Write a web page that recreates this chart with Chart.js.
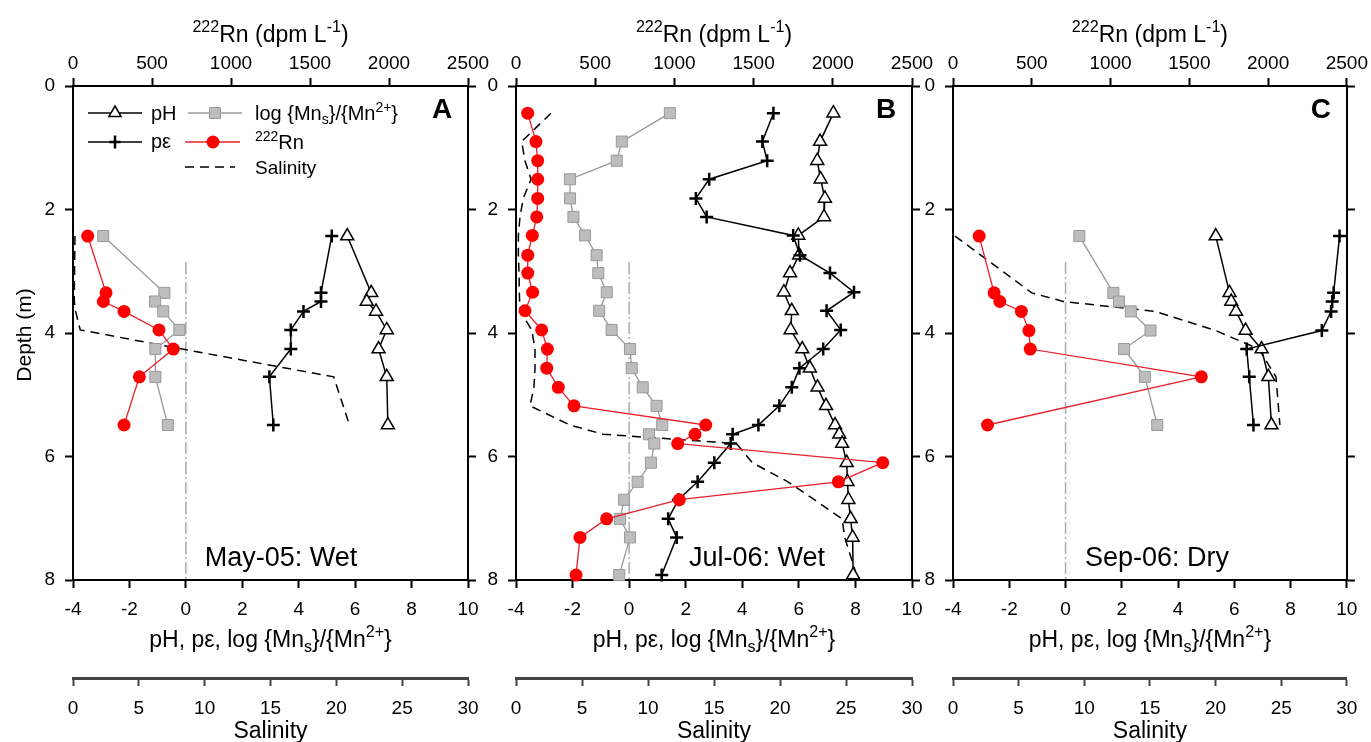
<!DOCTYPE html>
<html>
<head>
<meta charset="utf-8">
<script src="https://cdn.jsdelivr.net/npm/chart.js"></script>
<style>
  body { margin: 0; background: #fff; }
  #wrap { position: relative; width: 1371px; height: 742px; }
  #wrap canvas { position: absolute; left: 0; top: 0; }
</style>
</head>
<body>
<div id="wrap">
  <canvas id="pA" width="1371" height="742"></canvas>
  <canvas id="pB" width="1371" height="742"></canvas>
  <canvas id="pC" width="1371" height="742"></canvas>
</div>
<script>
// ---- data ----
// Panel A: May-05 (wet)
var depthA = [2.43, 3.35, 3.49, 3.65, 3.95, 4.26, 4.71, 5.49];
var phA  = [5.72, 6.57, 6.41, 6.74, 7.12, 6.83, 7.12, 7.16];
var peA  = [5.17, 4.79, 4.79, 4.17, 3.72, 3.72, 2.96, 3.10];
var mnA  = [-2.93, -0.76, -1.09, -0.80, -0.23, -1.08, -1.08, -0.64];
var rnA  = [93, 209, 192, 323, 544, 635, 420, 323];
var salA = [0.15, 0.1, 0.1, 0.2, 0.55, 8.3, 19.8, 21.0];

// Panel B: Jul-06 (wet)
var depthB = [0.44, 0.90, 1.21, 1.51, 1.82, 2.12, 2.42, 2.74, 3.03, 3.34, 3.64, 3.95, 4.26,
              4.57, 4.88, 5.18, 5.49, 5.64, 5.79, 6.10, 6.41, 6.70, 7.01, 7.31, 7.92];
var phB  = [7.22, 6.75, 6.65, 6.77, 6.92, 6.89, 5.98, 6.01, 5.69, 5.47, 5.75, 5.71, 6.12,
            6.39, 6.66, 6.96, 7.28, 7.43, 7.53, 7.69, 7.72, 7.75, 7.83, 7.90, 7.92];
var peB  = [5.10, 4.71, 4.88, 2.83, 2.36, 2.74, 5.80, 6.04, 7.10, 7.95, 6.98, 7.48, 6.86,
            6.02, 5.75, 5.31, 4.57, 3.66, 3.59, 3.01, 2.42, 1.74, 1.38, 1.68, 1.15];
var mnB  = [1.44, -0.26, -0.44, -2.09, -2.09, -1.97, -1.56, -1.15, -1.09, -0.79, -1.06, -0.62, 0.03,
            0.09, 0.48, 0.97, 1.17, 0.70, 0.89, 0.77, 0.30, -0.18, -0.32, 0.03, -0.35];
var rnB  = [74, 126, 137, 137, 137, 131, 103, 74, 74, 105, 57, 162, 198,
            194, 267, 366, 1198, 1130, 1021, 2315, 2035, 1031, 572, 404, 379];
var salB = [2.65, 0.43, 0.68, 1.14, 0.55, 0.3, 0.18, 0.18, 0.23, 0.25, 0.3, 1.19, 1.44,
            1.44, 1.36, 1.06, 4.09, 6.6, 16.7, 17.9, 20.6, 22.6, 24.7, 24.9, 25.8];

// Panel C: Sep-06 (dry)
var depthC = [2.43, 3.35, 3.49, 3.65, 3.96, 4.26, 4.71, 5.49];
var phC  = [5.34, 5.83, 5.89, 6.06, 6.40, 6.97, 7.21, 7.32];
var peC  = [9.74, 9.53, 9.48, 9.44, 9.11, 6.44, 6.53, 6.68];
var mnC  = [0.49, 1.70, 1.90, 2.32, 3.02, 2.08, 2.82, 3.26];
var rnC  = [166, 261, 297, 434, 482, 490, 1576, 219];
var salC = [0.15, 6.0, 8.4, 15.4, 20.0, 23.3, 24.6, 24.9];

// reference line log{Mns}/{Mn2+} = 0
var refX = [0, 0];
var refDepth = [2.85, 8];

var phTicks = [-4, 10, 2];
var rnTicks = [0, 2500, 500];
var salTicks = [0, 30, 5];
var depthTicks = [0, 8, 2];

var F = '"Liberation Sans", Arial, Helvetica, sans-serif';

function pts(xs, ds) {
  return xs.map(function (v, i) { return {x: v, y: ds[i]}; });
}

// text with superscripts (1) and subscripts (-1)
function rich(ctx, parts, x, y, size, align) {
  var w = 0;
  parts.forEach(function (p) {
    ctx.font = (p[1] ? size * 0.7 : size) + 'px ' + F;
    w += ctx.measureText(p[0]).width;
  });
  var cx = align === 'left' ? x : x - w / 2;
  ctx.textAlign = 'left';
  ctx.textBaseline = 'alphabetic';
  parts.forEach(function (p) {
    ctx.font = (p[1] ? size * 0.7 : size) + 'px ' + F;
    var dy = p[1] === 1 ? -size * 0.42 : (p[1] === -1 ? size * 0.22 : 0);
    ctx.fillText(p[0], cx, y + dy);
    cx += ctx.measureText(p[0]).width;
  });
}

function marker(ctx, kind, x, y) {
  ctx.beginPath();
  if (kind == 'tri') {
    ctx.moveTo(x, y - 7); ctx.lineTo(x + 6.1, y + 3.5); ctx.lineTo(x - 6.1, y + 3.5); ctx.closePath();
    ctx.fillStyle = '#fff'; ctx.fill(); ctx.strokeStyle = '#000'; ctx.lineWidth = 1.5; ctx.stroke();
  } else if (kind == 'cross') {
    ctx.moveTo(x - 5.5, y); ctx.lineTo(x + 5.5, y); ctx.moveTo(x, y - 6.5); ctx.lineTo(x, y + 6.5);
    ctx.strokeStyle = '#000'; ctx.lineWidth = 2.5; ctx.stroke();
  } else if (kind == 'sq') {
    ctx.rect(x - 5.5, y - 5.5, 11, 11);
    ctx.fillStyle = '#bdbdbd'; ctx.fill(); ctx.strokeStyle = '#999'; ctx.lineWidth = 1; ctx.stroke();
  } else {
    ctx.arc(x, y, 6.5, 0, Math.PI * 2);
    ctx.fillStyle = '#ff0000'; ctx.fill();
  }
}

function seg(ctx, x1, x2, y, col, dash) {
  ctx.beginPath();
  ctx.setLineDash(dash || []);
  ctx.moveTo(x1, y); ctx.lineTo(x2, y);
  ctx.strokeStyle = col; ctx.lineWidth = 1.5; ctx.stroke();
  ctx.setLineDash([]);
}

function drawLegend(ctx) {
  seg(ctx, 88, 142, 113, '#000'); marker(ctx, 'tri', 115, 113);
  ctx.fillStyle = '#000'; rich(ctx, [['pH', 0]], 151, 120, 20, 'left');
  seg(ctx, 188, 242, 113, '#999'); marker(ctx, 'sq', 215, 113);
  ctx.fillStyle = '#000';
  rich(ctx, [['log {Mn', 0], ['s', -1], ['}/{Mn', 0], ['2+', 1], ['}', 0]], 255, 120, 20, 'left');
  seg(ctx, 88, 142, 142, '#000'); marker(ctx, 'cross', 115, 142);
  ctx.fillStyle = '#000'; rich(ctx, [['p\u03b5', 0]], 151, 148, 20, 'left');
  seg(ctx, 185, 240, 142, '#e8202a'); marker(ctx, 'circ', 213, 142);
  ctx.fillStyle = '#000'; rich(ctx, [['222', 1], ['Rn', 0]], 255, 149, 20, 'left');
  seg(ctx, 185, 235, 167, '#000', [9, 6]);
  ctx.fillStyle = '#000'; rich(ctx, [['Salinity', 0]], 255, 174, 19, 'left');
}

function textPlugin(p) {
  return {
    id: 'panelText',
    afterDraw: function (chart) {
      var ctx = chart.ctx, a = chart.chartArea, cx = (a.left + a.right) / 2;
      ctx.save();
      ctx.fillStyle = '#000';
      rich(ctx, [['222', 1], ['Rn (dpm L', 0], ['-1', 1], [')', 0]], cx, 42, 23);
      rich(ctx, [['pH, p\u03b5, log {Mn', 0], ['s', -1], ['}/{Mn', 0], ['2+', 1], ['}', 0]], cx, 647, 23);
      rich(ctx, [['Salinity', 0]], cx, 738, 23);
      ctx.font = 'bold 28px ' + F;
      ctx.textAlign = 'center';
      ctx.textBaseline = 'middle';
      ctx.fillText(p.letter, a.right - 26, 110);
      ctx.font = '27px ' + F;
      ctx.textBaseline = 'alphabetic';
      ctx.fillText(p.date, p.dateX, 566);
      if (p.yTitle) {
        ctx.save();
        ctx.translate(31, 335);
        ctx.rotate(-Math.PI / 2);
        ctx.font = '21px ' + F;
        ctx.textAlign = 'center';
        ctx.fillText('Depth (m)', 0, 0);
        ctx.restore();
      }
      if (p.legend) drawLegend(ctx);
      ctx.restore();
    }
  };
}

function lin(axis, pos, t, size, tickPad, color, bw) {
  return {
    type: 'linear', axis: axis, position: pos, min: t[0], max: t[1],
    reverse: axis === 'y',
    ticks: {stepSize: t[2], color: '#000', padding: tickPad, font: {family: F, size: 19},
            callback: function (v) { return String(v); }},
    grid: {drawOnChartArea: false, tickLength: 8, tickColor: color, tickWidth: 2},
    border: {color: color, width: bw},
    afterFit: function (s) { if (axis === 'y') s.width = size; else s.height = size; }
  };
}

function makePanel(id, p) {
  var sc = {
    x: lin('x', 'bottom', phTicks, 98, 10, '#000', 2),
    x2: lin('x', 'top', rnTicks, 86, 3, '#000', 2),
    sal: lin('x', 'bottom', salTicks, 64, 11, '#444', 3),
    y: lin('y', 'left', depthTicks, 40, 10, '#000', 2),
    y2: lin('y', 'right', depthTicks, 10, 0, '#000', 2)
  };
  sc.y2.ticks.display = false;

  new Chart(document.getElementById(id), {
    type: 'scatter',
    data: {
      datasets: [
        {label: '222Rn', data: pts(p.rn, p.depth), xAxisID: 'x2', showLine: true,
         borderColor: '#e8202a', borderWidth: 1.3, pointStyle: 'circle', pointRadius: 6.5,
         pointBackgroundColor: '#ff0000', pointBorderColor: '#ff0000', pointBorderWidth: 0, clip: false},
        {label: 'pe', data: pts(p.pe, p.depth), xAxisID: 'x', showLine: true,
         borderColor: '#000', borderWidth: 1.5, pointStyle: 'cross', pointRadius: 6.5,
         pointBorderColor: '#000', pointBorderWidth: 2.5, clip: false},
        {label: 'pH', data: pts(p.ph, p.depth), xAxisID: 'x', showLine: true,
         borderColor: '#000', borderWidth: 1.5, pointStyle: 'triangle', pointRadius: 7.5,
         pointBackgroundColor: '#fff', pointBorderColor: '#000', pointBorderWidth: 1.5, clip: false},
        {label: 'Mn', data: pts(p.mn, p.depth), xAxisID: 'x', showLine: true,
         borderColor: '#999', borderWidth: 1.3, pointStyle: 'rect', pointRadius: 7.8,
         pointBackgroundColor: '#bdbdbd', pointBorderColor: '#999', pointBorderWidth: 1, clip: false},
        {label: 'Salinity', data: pts(p.sal, p.depth), xAxisID: 'sal', showLine: true,
         borderColor: '#000', borderWidth: 1.5, borderDash: [9, 6], pointRadius: 0},
        {label: 'ref', data: pts(refX, refDepth), xAxisID: 'x', showLine: true,
         borderColor: '#aaa', borderWidth: 1.5, borderDash: [12, 3, 2, 3], pointRadius: 0}
      ]
    },
    options: {
      responsive: false,
      animation: false,
      events: [],
      devicePixelRatio: 1,
      layout: {padding: {left: p.left - 40, right: 1371 - p.right - 10, top: 0, bottom: 0}},
      plugins: {legend: {display: false}, tooltip: {enabled: false}},
      scales: sc
    },
    plugins: [textPlugin(p)]
  });
}

makePanel('pA', {depth: depthA, ph: phA, pe: peA, mn: mnA, rn: rnA, sal: salA,
  left: 73, right: 468, letter: 'A', date: 'May-05: Wet', dateX: 281, yTitle: true, legend: true});
makePanel('pB', {depth: depthB, ph: phB, pe: peB, mn: mnB, rn: rnB, sal: salB,
  left: 516, right: 912, letter: 'B', date: 'Jul-06: Wet', dateX: 757});
makePanel('pC', {depth: depthC, ph: phC, pe: peC, mn: mnC, rn: rnC, sal: salC,
  left: 953, right: 1349, letter: 'C', date: 'Sep-06: Dry', dateX: 1157});
</script>
</body>
</html>
